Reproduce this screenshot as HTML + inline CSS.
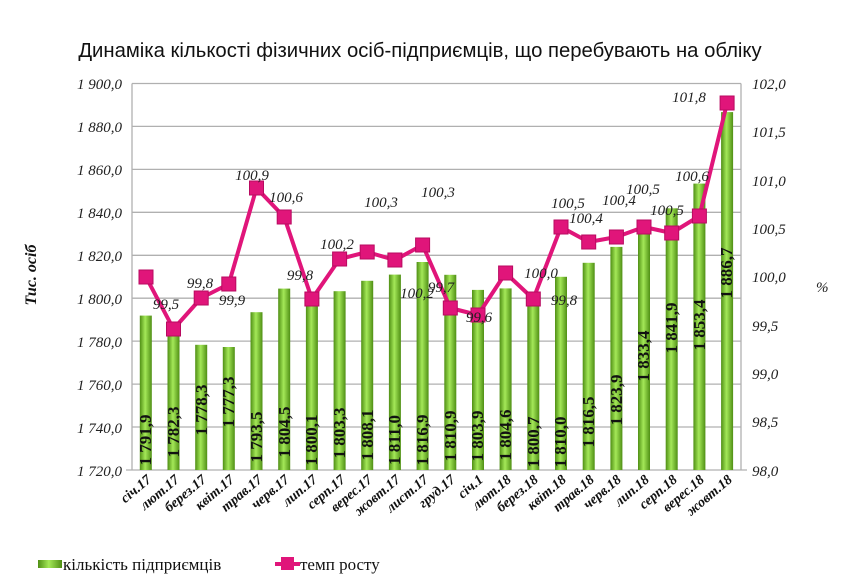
<!DOCTYPE html>
<html><head><meta charset="utf-8"><style>
html,body{margin:0;padding:0;background:#fff;}
svg{display:block;}
.yl{font-family:"Liberation Serif",serif;font-style:italic;font-size:15px;fill:#222;}
.xl{font-family:"Liberation Serif",serif;font-style:italic;font-weight:bold;font-size:14px;fill:#111;}
.bl{font-family:"Liberation Serif",serif;font-weight:bold;font-size:17px;fill:#111;}
.rl{font-family:"Liberation Serif",serif;font-style:italic;font-size:15px;fill:#222;}
</style></head><body>
<svg width="850" height="588" viewBox="0 0 850 588" xmlns="http://www.w3.org/2000/svg">
<defs>
<linearGradient id="g" x1="0" x2="1" y1="0" y2="0">
<stop offset="0" stop-color="#4f8f14"/><stop offset="0.45" stop-color="#a4e858"/><stop offset="1" stop-color="#4f8f14"/>
</linearGradient>
</defs>
<text x="420" y="57" text-anchor="middle" font-family="Liberation Sans, sans-serif" font-size="20.3" fill="#111">Динаміка кількості фізичних осіб-підприємців, що перебувають на обліку</text>
<g stroke="#b0b0b0" stroke-width="1.3">
<line x1="132" y1="83.5" x2="741" y2="83.5"/><line x1="132" y1="126.4" x2="741" y2="126.4"/><line x1="132" y1="169.4" x2="741" y2="169.4"/><line x1="132" y1="212.3" x2="741" y2="212.3"/><line x1="132" y1="255.3" x2="741" y2="255.3"/><line x1="132" y1="298.2" x2="741" y2="298.2"/><line x1="132" y1="341.1" x2="741" y2="341.1"/><line x1="132" y1="384.1" x2="741" y2="384.1"/><line x1="132" y1="427" x2="741" y2="427"/>
<line x1="132" y1="83.5" x2="132" y2="470"/><line x1="741" y1="83.5" x2="741" y2="470"/><line x1="126" y1="470" x2="747" y2="470"/>
</g>
<g class="yl" text-anchor="end">
<text x="122" y="89">1 900,0</text><text x="122" y="132">1 880,0</text><text x="122" y="175">1 860,0</text><text x="122" y="218">1 840,0</text><text x="122" y="261">1 820,0</text><text x="122" y="304">1 800,0</text><text x="122" y="347">1 780,0</text><text x="122" y="390">1 760,0</text><text x="122" y="433">1 740,0</text><text x="122" y="476">1 720,0</text>
</g>
<g class="yl">
<text x="752" y="89">102,0</text><text x="752" y="137">101,5</text><text x="752" y="186">101,0</text><text x="752" y="234">100,5</text><text x="752" y="282">100,0</text><text x="752" y="331">99,5</text><text x="752" y="379">99,0</text><text x="752" y="427">98,5</text><text x="752" y="476">98,0</text>
</g>
<text x="816" y="292" class="yl" font-size="17">%</text>
<text transform="translate(36,275) rotate(-90)" text-anchor="middle" font-family="Liberation Serif, serif" font-style="italic" font-weight="bold" font-size="16" fill="#111">Тис. осіб</text>
<g fill="url(#g)">
<rect x="139.8" y="315.6" width="12" height="154.4"/><rect x="167.5" y="336.2" width="12" height="133.8"/><rect x="195.2" y="344.8" width="12" height="125.2"/><rect x="222.8" y="347" width="12" height="123"/><rect x="250.5" y="312.2" width="12" height="157.8"/><rect x="278.2" y="288.6" width="12" height="181.4"/><rect x="305.9" y="298" width="12" height="172"/><rect x="333.6" y="291.2" width="12" height="178.8"/><rect x="361.2" y="280.8" width="12" height="189.2"/><rect x="388.9" y="274.6" width="12" height="195.4"/><rect x="416.6" y="262" width="12" height="208"/><rect x="444.3" y="274.8" width="12" height="195.2"/><rect x="472" y="289.9" width="12" height="180.1"/><rect x="499.6" y="288.4" width="12" height="181.6"/><rect x="527.3" y="296.7" width="12" height="173.3"/><rect x="555" y="276.8" width="12" height="193.2"/><rect x="582.7" y="262.8" width="12" height="207.2"/><rect x="610.4" y="246.9" width="12" height="223.1"/><rect x="638" y="226.5" width="12" height="243.5"/><rect x="665.7" y="208.3" width="12" height="261.7"/><rect x="693.4" y="183.6" width="12" height="286.4"/><rect x="721.1" y="112.1" width="12" height="357.9"/>
</g>
<g class="bl" text-anchor="middle">
<text transform="translate(151,440) rotate(-90)">1 791,9</text>
<text transform="translate(179,432) rotate(-90)">1 782,3</text>
<text transform="translate(207,410) rotate(-90)">1 778,3</text>
<text transform="translate(234,402) rotate(-90)">1 777,3</text>
<text transform="translate(262,437) rotate(-90)">1 793,5</text>
<text transform="translate(290,432) rotate(-90)">1 804,5</text>
<text transform="translate(317,440) rotate(-90)">1 800,1</text>
<text transform="translate(345,433) rotate(-90)">1 803,3</text>
<text transform="translate(373,435) rotate(-90)">1 808,1</text>
<text transform="translate(400,440) rotate(-90)">1 811,0</text>
<text transform="translate(428,440) rotate(-90)">1 816,9</text>
<text transform="translate(456,436) rotate(-90)">1 810,9</text>
<text transform="translate(483,436) rotate(-90)">1 803,9</text>
<text transform="translate(511,435) rotate(-90)">1 804,6</text>
<text transform="translate(539,442) rotate(-90)">1 800,7</text>
<text transform="translate(566,442) rotate(-90)">1 810,0</text>
<text transform="translate(594,422) rotate(-90)">1 816,5</text>
<text transform="translate(622,400) rotate(-90)">1 823,9</text>
<text transform="translate(649,356) rotate(-90)">1 833,4</text>
<text transform="translate(677,328) rotate(-90)">1 841,9</text>
<text transform="translate(705,325) rotate(-90)">1 853,4</text>
<text transform="translate(732,273) rotate(-90)">1 886,7</text>
</g>
<polyline fill="none" stroke="#e0157a" stroke-width="4" stroke-linejoin="round" points="145.8,276.7 173.5,329 201.2,298 228.8,284 256.5,188 284.2,217 311.9,299 339.6,259 367.2,252 394.9,260 422.6,245 450.3,308 478,315 505.6,273 533.3,299 561,227 588.7,242 616.4,237 644,227 671.7,233 699.4,216 727.1,103"/>
<g fill="#e0157a" stroke="#b80a60" stroke-width="1">
<rect x="139" y="270" width="14" height="14"/><rect x="166.5" y="322" width="14" height="14"/><rect x="194.2" y="291" width="14" height="14"/><rect x="221.8" y="277" width="14" height="14"/><rect x="249.5" y="181" width="14" height="14"/><rect x="277.2" y="210" width="14" height="14"/><rect x="304.9" y="292" width="14" height="14"/><rect x="332.6" y="252" width="14" height="14"/><rect x="360.2" y="245" width="14" height="14"/><rect x="387.9" y="253" width="14" height="14"/><rect x="415.6" y="238" width="14" height="14"/><rect x="443.3" y="301" width="14" height="14"/><rect x="471" y="308" width="14" height="14"/><rect x="498.6" y="266" width="14" height="14"/><rect x="526.3" y="292" width="14" height="14"/><rect x="554" y="220" width="14" height="14"/><rect x="581.7" y="235" width="14" height="14"/><rect x="609.4" y="230" width="14" height="14"/><rect x="637" y="220" width="14" height="14"/><rect x="664.7" y="226" width="14" height="14"/><rect x="692.4" y="209" width="14" height="14"/><rect x="720.1" y="96" width="14" height="14"/>
</g>
<g class="rl" text-anchor="middle">
<text x="166" y="309">99,5</text><text x="200" y="288">99,8</text><text x="232" y="305">99,9</text><text x="252" y="180">100,9</text><text x="286" y="202">100,6</text><text x="300" y="280">99,8</text><text x="337" y="249">100,2</text><text x="381" y="207">100,3</text><text x="417" y="298">100,2</text><text x="438" y="197">100,3</text><text x="441" y="292">99,7</text><text x="479" y="322">99,6</text><text x="541" y="278">100,0</text><text x="564" y="305">99,8</text><text x="568" y="208">100,5</text><text x="586" y="223">100,4</text><text x="619" y="205">100,4</text><text x="643" y="194">100,5</text><text x="667" y="215">100,5</text><text x="692" y="181">100,6</text><text x="689" y="102">101,8</text>
</g>
<g class="xl" text-anchor="end">
<text transform="translate(152,481) rotate(-40)">січ.17</text>
<text transform="translate(180,481) rotate(-40)">лют.17</text>
<text transform="translate(207,481) rotate(-40)">берез.17</text>
<text transform="translate(235,481) rotate(-40)">квіт.17</text>
<text transform="translate(263,481) rotate(-40)">трав.17</text>
<text transform="translate(290,481) rotate(-40)">черв.17</text>
<text transform="translate(318,481) rotate(-40)">лип.17</text>
<text transform="translate(346,481) rotate(-40)">серп.17</text>
<text transform="translate(373,481) rotate(-40)">верес.17</text>
<text transform="translate(401,481) rotate(-40)">жовт.17</text>
<text transform="translate(429,481) rotate(-40)">лист.17</text>
<text transform="translate(456,481) rotate(-40)">груд.17</text>
<text transform="translate(484,481) rotate(-40)">січ.1</text>
<text transform="translate(512,481) rotate(-40)">лют.18</text>
<text transform="translate(539,481) rotate(-40)">берез.18</text>
<text transform="translate(567,481) rotate(-40)">квіт.18</text>
<text transform="translate(595,481) rotate(-40)">трав.18</text>
<text transform="translate(622,481) rotate(-40)">черв.18</text>
<text transform="translate(650,481) rotate(-40)">лип.18</text>
<text transform="translate(678,481) rotate(-40)">серп.18</text>
<text transform="translate(705,481) rotate(-40)">верес.18</text>
<text transform="translate(733,481) rotate(-40)">жовт.18</text>
</g>
<rect x="38" y="560" width="24" height="8" fill="url(#g)"/>
<text x="63" y="570" font-family="Liberation Serif, serif" font-size="17" fill="#111">кількість підприємців</text>
<line x1="275" y1="564" x2="300" y2="564" stroke="#e0157a" stroke-width="4"/>
<rect x="281" y="557" width="13" height="13" fill="#e0157a"/>
<text x="300" y="570" font-family="Liberation Serif, serif" font-size="17" fill="#111">темп росту</text>
</svg>
</body></html>
